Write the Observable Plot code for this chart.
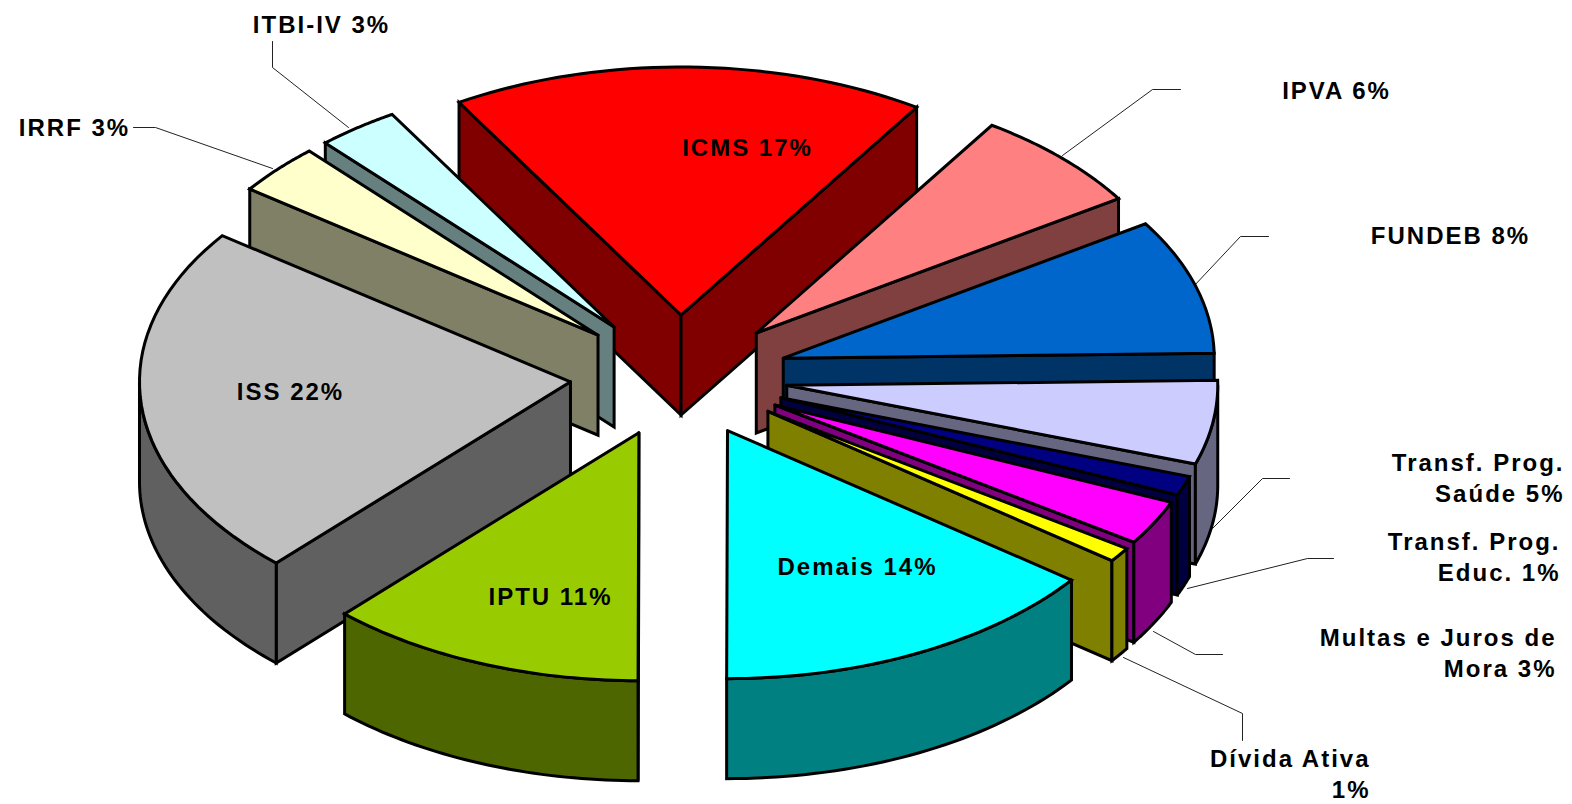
<!DOCTYPE html>
<html><head><meta charset="utf-8">
<script src="https://cdn.jsdelivr.net/npm/d3@7"></script>
<script src="https://cdn.jsdelivr.net/npm/@observablehq/plot@0.6"></script>
<style>
html,body{margin:0;padding:0;background:#fff}
svg text{letter-spacing:2px}
</style></head><body>
<script>
// Data
const categories = ["ICMS","IPVA","FUNDEB","Transf. Prog. Saúde","Transf. Prog. Educ.","Multas e Juros de Mora","Dívida Ativa","Demais","IPTU","ISS","IRRF","ITBI-IV"];
const shares = [16.8,6.3,8.3,5.15,1.2,2.75,0.9,13.9,11.25,21.75,3.1,2.9];
const topColors = ["#ff0000","#ff8080","#0066cc","#ccccff","#000080","#ff00ff","#ffff00","#00ffff","#99cc00","#c0c0c0","#ffffcc","#ccffff"];
const wallColors = ["#800000","#804040","#003366","#666680","#000040","#800080","#808000","#008080","#4d6600","#606060","#808066","#668080"];
const labelLines = [["ICMS 17%"],["IPVA 6%"],["FUNDEB 8%"],["Transf. Prog.","Saúde 5%"],["Transf. Prog.","Educ. 1%"],["Multas e Juros de","Mora 3%"],["Dívida Ativa","1%"],["Demais 14%"],["IPTU 11%"],["ISS 22%"],["IRRF 3%"],["ITBI-IV 3%"]];

// Layout of the exploded 3-D pie
const W = 1572, H = 804;
const center = [678.5, 375.5], radius = [431, 248], explode = [109, 61], depth = 100, startDeg = -31;
const labelAnchors = [[747,148,"middle"],[1336,91,"middle"],[1450,236,"middle"],[1564,463,"end"],[1560,542,"end"],[1556,638,"end"],[1370,759,"end"],[857,567,"middle"],[550,597,"middle"],[290,392,"middle"],[74,128,"middle"],[321,25,"middle"]];
const lineGap = 31;
const leaderPaths = [[[272,41],[272,67],[348,127]],[[133,127],[155,127],[272,168]],[[1180,89],[1152,89],[1062,155]],[[1268,236],[1240,236],[1193,286]],[[1289,478],[1262,478],[1212,528]],[[1333,558],[1307,558],[1187,588]],[[1222,654],[1195,654],[1153,631]],[[1242,740],[1242,713],[1123,657]]];

const rad = d => d * Math.PI / 180;
const total = d3.sum(shares);
let acc = startDeg;
const slices = shares.map((v, i) => {
  const a0 = acc, a1 = acc + v / total * 360; acc = a1;
  const mid = rad((a0 + a1) / 2);
  return {i, a0, a1, apex: [center[0] + explode[0] * Math.sin(mid), center[1] - explode[1] * Math.cos(mid)]};
}).sort((p, q) => p.apex[1] - q.apex[1]);

const rows = [];
const poly = (id, color, pts) => {
  [...pts, pts[0]].forEach(([x, y]) => rows.push({id, color, x, y}));
};
for (const s of slices) {
  const rim = a => [s.apex[0] + radius[0] * Math.sin(rad(a)), s.apex[1] - radius[1] * Math.cos(rad(a))];
  const down = ([x, y]) => [x, y + depth];
  const arc = (from, to) => d3.range(0, 41).map(k => rim(from + (to - from) * k / 40));
  const wall = wallColors[s.i], name = categories[s.i];
  // radial walls that face the viewer
  if (Math.sin(rad(s.a0)) < -1e-3) poly(name + "-w0", wall, [s.apex, rim(s.a0), down(rim(s.a0)), down(s.apex)]);
  if (Math.sin(rad(s.a1)) > 1e-3) poly(name + "-w1", wall, [s.apex, rim(s.a1), down(rim(s.a1)), down(s.apex)]);
  // outer wall, front half only
  const f = Math.max(s.a0, 90), t = Math.min(s.a1, 270);
  if (t > f) { const a = arc(f, t); poly(name + "-o", wall, [...a, ...a.slice().reverse().map(down)]); }
  // top
  poly(name + "-t", topColors[s.i], [s.apex, ...arc(s.a0, s.a1)]);
}
const leaders = leaderPaths.flatMap((p, id) => p.map(([x, y]) => ({id, x, y})));
const texts = labelLines.flatMap((lines, i) => lines.map((text, k) => ({text, x: labelAnchors[i][0], y: labelAnchors[i][1] + k * lineGap, anchor: labelAnchors[i][2]})));
const textMark = a => Plot.text(texts.filter(d => d.anchor === a), {x: "x", y: "y", text: "text",
  textAnchor: a, lineAnchor: "middle", fontFamily: "Liberation Sans", fontWeight: "bold", fontSize: 24, fill: "#000"});

const chart = Plot.plot({
  width: W, height: H, margin: 0,
  x: {domain: [0, W], range: [0, W], axis: null},
  y: {domain: [0, H], range: [0, H], axis: null},
  style: {background: "#fff"},
  marks: [
    Plot.line(leaders, {x: "x", y: "y", z: "id", stroke: "#222", strokeWidth: 1, curve: "linear"}),
    Plot.line(rows, {x: "x", y: "y", z: "id", fill: d => d.color, stroke: "#000", strokeWidth: 3, curve: "linear", strokeLinejoin: "miter", strokeMiterlimit: 3}),
    textMark("middle"), textMark("end")
  ]
});
document.body.appendChild(chart);
</script>
</body></html>
